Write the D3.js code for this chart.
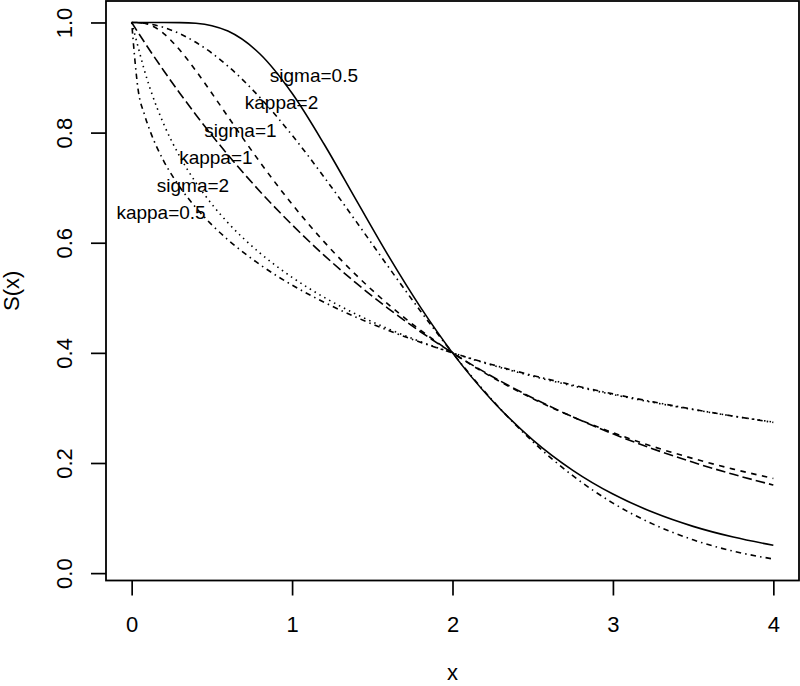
<!DOCTYPE html>
<html>
<head>
<meta charset="utf-8">
<script src="https://cdn.jsdelivr.net/npm/d3@7"></script>
<style>
  html, body { margin: 0; padding: 0; background: #fff; }
  svg { display: block; font-family: "Liberation Sans", Arial, Helvetica, sans-serif; }
</style>
</head>
<body>
<svg id="chart" width="800" height="686"></svg>
<script>
// ---- data ----
const xs = [0, 0.04, 0.08, 0.12, 0.2, 0.3, 0.4, 0.5, 0.6, 0.8, 1.0, 1.2, 1.4, 1.6, 1.8, 2.0,
            2.25, 2.5, 2.75, 3.0, 3.25, 3.5, 3.75, 4.0];

const sigma05 = [1, 1, 1, 1, 1, 0.9998, 0.9985, 0.9941, 0.9844, 0.9428, 0.8714, 0.7788, 0.6772, 0.5765, 0.483, 0.400,
                 0.3125, 0.2421, 0.1867, 0.1436, 0.1104, 0.0849, 0.0655, 0.0506];
const sigma1  = [1, 0.9999, 0.9985, 0.9948, 0.9798, 0.9499, 0.9125, 0.8714, 0.8291, 0.7463, 0.6700, 0.6016, 0.5411, 0.4880, 0.4412, 0.400,
                 0.3553, 0.3169, 0.2837, 0.2550, 0.2299, 0.2081, 0.1889, 0.1720];
const sigma2  = [1, 0.9557, 0.9125, 0.8756, 0.8154, 0.7566, 0.7093, 0.6700, 0.6363, 0.5812, 0.5372, 0.5008, 0.4701, 0.4436, 0.4205, 0.400,
                 0.3774, 0.3576, 0.3400, 0.3242, 0.3099, 0.2970, 0.2851, 0.2743];
const kappa2  = [1, 0.9996, 0.9985, 0.9967, 0.9909, 0.9796, 0.9640, 0.9443, 0.9208, 0.8636, 0.7953, 0.7190, 0.6383, 0.5563, 0.4761, 0.400,
                 0.3136, 0.2389, 0.1769, 0.1272, 0.0890, 0.0604, 0.0399, 0.0256];
const kappa1  = [1, 0.9818, 0.9640, 0.9465, 0.9124, 0.8716, 0.8326, 0.7953, 0.7596, 0.6931, 0.6325, 0.5771, 0.5266, 0.4805, 0.4384, 0.400,
                 0.3567, 0.3181, 0.2837, 0.2530, 0.2256, 0.2012, 0.1794, 0.1600];
const kappa05 = [1, 0.8785, 0.8326, 0.7990, 0.7484, 0.7013, 0.6638, 0.6325, 0.6054, 0.5602, 0.5231, 0.4918, 0.4646, 0.4406, 0.4193, 0.400,
                 0.3784, 0.3590, 0.3415, 0.3255, 0.3110, 0.2975, 0.2852, 0.2737];

const seriesNames = ["sigma=0.5", "kappa=2", "sigma=1", "kappa=1", "sigma=2", "kappa=0.5"];
const seriesValues = [sigma05, kappa2, sigma1, kappa1, sigma2, kappa05];
const labelX = [1.136, 0.934, 0.678, 0.525, 0.382, 0.183];
const labelY = [0.9, 0.85, 0.8, 0.75, 0.7, 0.65];

const xTicks = [0, 1, 2, 3, 4];
const yTicks = [0.0, 0.2, 0.4, 0.6, 0.8, 1.0];

// ---- styles ----
const dashes = {
  "sigma=0.5": null,
  "sigma=1": "5.5,5.5",
  "sigma=2": "1.5,4.1",
  "kappa=2": "1.5,4.1,5.5,4.1",
  "kappa=1": "9.6,4.1",
  "kappa=0.5": "1.5,4.1,5.5,4.1"
};

const svg = d3.select("#chart");
const pLeft = 106, pRight = 799, pTop = 1, pBottom = 580.5;

const x = d3.scaleLinear().domain([-0.16, 4.16]).range([pLeft, pRight]);
const y = d3.scaleLinear().domain([-0.0134, 1.039]).range([pBottom, pTop]);

const line = d3.line()
  .x(d => x(d[0]))
  .y(d => y(d[1]))
  .curve(d3.curveMonotoneX);

const g = svg.append("g");
seriesNames.forEach((name, i) => {
  const pts = xs.map((xv, j) => [xv, seriesValues[i][j]]);
  g.append("path")
    .datum(pts)
    .attr("d", line)
    .attr("fill", "none")
    .attr("stroke", "#000")
    .attr("stroke-width", 1.6)
    .attr("stroke-dasharray", dashes[name]);
});

// labels
seriesNames.forEach((name, i) => {
  svg.append("text")
    .attr("x", x(labelX[i]))
    .attr("y", y(labelY[i]) + 4)
    .attr("text-anchor", "middle")
    .attr("font-size", 19)
    .attr("fill", "#000")
    .text(name);
});

// frame
svg.append("rect")
  .attr("x", pLeft).attr("y", pTop)
  .attr("width", pRight - pLeft).attr("height", pBottom - pTop)
  .attr("fill", "none").attr("stroke", "#000").attr("stroke-width", 1.8);

// x axis
const xAxis = svg.append("g")
  .attr("transform", `translate(0,${pBottom})`)
  .call(d3.axisBottom(x).tickValues(xTicks).tickFormat(d3.format("d")).tickSize(15).tickSizeOuter(0));
xAxis.select(".domain").remove();
xAxis.selectAll("line").attr("stroke", "#000").attr("stroke-width", 1.7);
xAxis.selectAll("text")
  .attr("y", 51).attr("dy", null)
  .attr("font-size", 22).attr("fill", "#000")
  .attr("font-family", "Liberation Sans, Arial, sans-serif");

// y axis
const yAxis = svg.append("g")
  .attr("transform", `translate(${pLeft},0)`)
  .call(d3.axisLeft(y).tickValues(yTicks).tickFormat(d3.format(".1f")).tickSize(15).tickSizeOuter(0));
yAxis.select(".domain").remove();
yAxis.selectAll("line").attr("stroke", "#000").attr("stroke-width", 1.7);
yAxis.selectAll("text")
  .attr("x", 0).attr("y", -34).attr("dy", null)
  .attr("transform", "rotate(-90)")
  .attr("text-anchor", "middle")
  .attr("font-size", 22).attr("fill", "#000")
  .attr("font-family", "Liberation Sans, Arial, sans-serif");

// axis titles
svg.append("text")
  .attr("x", (pLeft + pRight) / 2).attr("y", 680)
  .attr("text-anchor", "middle").attr("font-size", 22)
  .text("x");
svg.append("text")
  .attr("transform", `translate(19,${(pTop + pBottom) / 2}) rotate(-90)`)
  .attr("text-anchor", "middle").attr("font-size", 22)
  .text("S(x)");
</script>
</body>
</html>
